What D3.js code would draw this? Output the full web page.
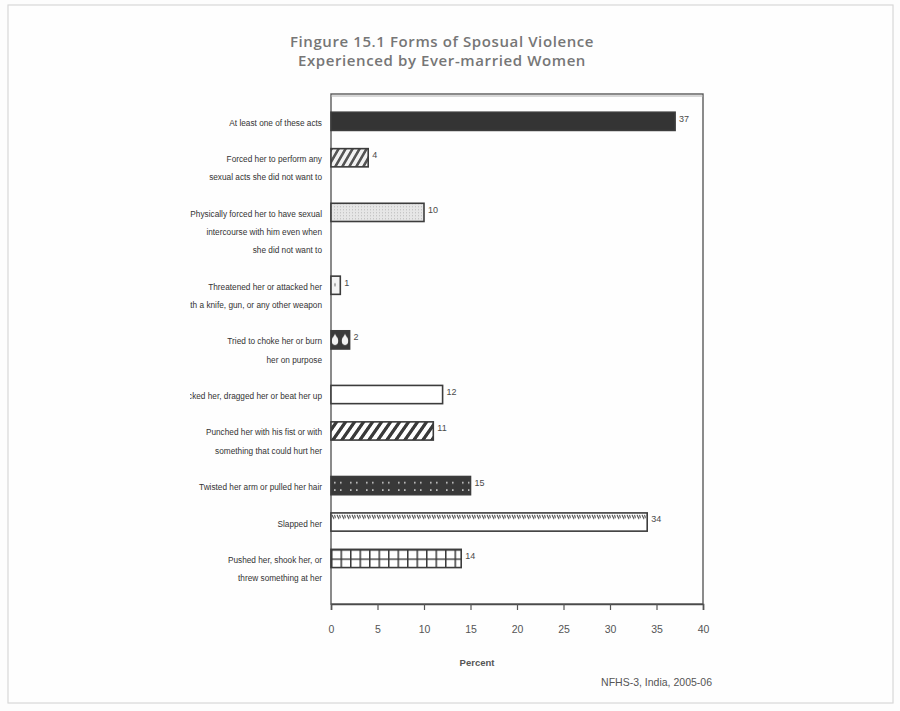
<!DOCTYPE html>
<html>
<head>
<meta charset="utf-8">
<script src="https://cdn.jsdelivr.net/npm/d3@7"></script>
<style>
  html, body { margin: 0; padding: 0; background: #fdfdfd; }
  svg { display: block; }
</style>
</head>
<body>
<svg id="chart" width="900" height="711"></svg>
<script>
// Chart data
const categories = [
  ["At least one of these acts"],
  ["Forced her to perform any", "sexual acts she did not want to"],
  ["Physically forced her to have sexual", "intercourse with him even when", "she did not want to"],
  ["Threatened her or attacked her", "with a knife, gun, or any other weapon"],
  ["Tried to choke her or burn", "her on purpose"],
  ["Kicked her, dragged her or beat her up"],
  ["Punched her with his fist or with", "something that could hurt her"],
  ["Twisted her arm or pulled her hair"],
  ["Slapped her"],
  ["Pushed her, shook her, or", "threw something at her"]
];
const percents = [37, 4, 10, 1, 2, 12, 11, 15, 34, 14];
const fills = ["solid", "hatch", "fine", "threat", "drops", "plain", "stripe", "dots", "slap", "grid"];
const xTicks = [0, 5, 10, 15, 20, 25, 30, 35, 40];
const titleLines = ["Fingure 15.1 Forms of Sposual Violence", "Experienced by Ever-married Women"];
const xTitle = "Percent";
const sourceNote = "NFHS-3, India, 2005-06";

const svg = d3.select("#chart");
const W = 900, H = 711;
const plot = { left: 331, right: 703, top: 94, bottom: 604 };
const narrow = "'Liberation Sans', Arial, sans-serif";

// page frame
svg.append("rect")
  .attr("x", 8).attr("y", 5).attr("width", 885).attr("height", 698)
  .attr("fill", "#fefefe").attr("stroke", "#d8d8d8").attr("stroke-width", 1.2);

// title
svg.append("g").selectAll("text").data(titleLines).join("text")
  .attr("x", 442).attr("y", (d, i) => 46.5 + i * 19)
  .attr("text-anchor", "middle")
  .attr("font-family", "'Open Sans', sans-serif")
  .attr("font-weight", 600)
  .attr("font-size", 15)
  .attr("letter-spacing", 0.6)
  .attr("fill", "#767676")
  .text(d => d);

// Each category takes one slot per label line plus a spacer slot; a leading spacer pads the top.
const slots = ["top"];
const firstSlot = [];
categories.forEach((lines, i) => {
  firstSlot.push(slots.length);
  lines.forEach((_, j) => slots.push(`c${i}-l${j}`));
  slots.push(`c${i}-gap`);
});

const y = d3.scaleBand().domain(slots).range([plot.top, plot.bottom]).padding(0);
const x = d3.scaleLinear().domain([0, 40]).range([plot.left, plot.right]);
const bh = y.bandwidth();

const data = categories.map((lines, i) => ({
  lines, value: percents[i], fill: fills[i], slot: slots[firstSlot[i]],
  lineSlots: lines.map((_, j) => slots[firstSlot[i] + j])
}));

// bar patterns, anchored to each bar's origin
const defs = svg.append("defs");
data.forEach((d, i) => {
  const p = defs.append("pattern")
    .attr("id", "pat" + i)
    .attr("patternUnits", "userSpaceOnUse")
    .attr("x", x(0)).attr("y", y(d.slot));
  const bg = (w, h, c) => { p.attr("width", w).attr("height", h);
    p.append("rect").attr("width", w).attr("height", h).attr("fill", c); };
  switch (d.fill) {
    case "solid":
      bg(6, 6, "#343434");
      break;
    case "hatch":
      bg(7, bh, "#f2f2f2");
      p.attr("patternTransform", "skewX(-30)");
      p.append("rect").attr("x", 1).attr("width", 3).attr("height", bh).attr("fill", "#555");
      break;
    case "fine":
      bg(3, 3, "#e6e6e6");
      p.append("rect").attr("width", 1).attr("height", 1).attr("fill", "#b9b9b9");
      break;
    case "threat":
      bg(8, bh, "#f4f4f4");
      p.append("rect").attr("x", 3).attr("y", bh / 2 - 2).attr("width", 2).attr("height", 3).attr("fill", "#aaa");
      break;
    case "drops":
      bg(10, bh, "#3a3a3a");
      p.append("ellipse").attr("cx", 4).attr("cy", bh / 2 + 1).attr("rx", 3.2).attr("ry", 4.2).attr("fill", "#f2f2f2");
      p.append("path").attr("d", `M4,${bh / 2 - 6} L1.3,${bh / 2 - 1} L6.7,${bh / 2 - 1}Z`).attr("fill", "#f2f2f2");
      break;
    case "plain":
      bg(4, 4, "#ffffff");
      break;
    case "stripe":
      bg(9, bh, "#ffffff");
      p.attr("patternTransform", "skewX(-35)");
      p.append("rect").attr("x", 2).attr("width", 4).attr("height", bh).attr("fill", "#3a3a3a");
      break;
    case "dots":
      bg(16, bh, "#393939");
      [[3, bh * 0.3], [9, bh * 0.3], [3, bh * 0.7], [9, bh * 0.7]].forEach(([cx, cy]) =>
        p.append("rect").attr("x", cx).attr("y", cy).attr("width", 1.6).attr("height", 1.6).attr("fill", "#d0d0d0"));
      break;
    case "slap":
      bg(5, bh, "#ffffff");
      p.append("path").attr("d", "M1,2 L3,6 M3.5,2 L4.5,5").attr("stroke", "#444").attr("stroke-width", 1.1);
      break;
    case "grid":
      bg(9.5, bh / 2, "#ffffff");
      p.append("path").attr("d", `M0,0.5 H9.5 M0.7,0 V${bh / 2}`).attr("stroke", "#3a3a3a").attr("stroke-width", 1.6);
      break;
  }
});

// plot frame
svg.append("rect")
  .attr("x", plot.left).attr("y", plot.top)
  .attr("width", plot.right - plot.left).attr("height", plot.bottom - plot.top)
  .attr("fill", "none").attr("stroke", "#5a5a5a").attr("stroke-width", 1.4);
svg.append("line")
  .attr("x1", plot.left).attr("x2", plot.right).attr("y1", plot.top + 2).attr("y2", plot.top + 2)
  .attr("stroke", "#b0b0b0").attr("stroke-width", 1);

// bars
svg.append("g").selectAll("rect").data(data).join("rect")
  .attr("x", x(0))
  .attr("y", d => y(d.slot))
  .attr("width", d => x(d.value) - x(0))
  .attr("height", bh)
  .attr("fill", (d, i) => `url(#pat${i})`)
  .attr("stroke", "#3c3c3c").attr("stroke-width", 1.6);

// value labels
svg.append("g").selectAll("text").data(data).join("text")
  .attr("x", d => x(d.value) + 4)
  .attr("y", d => y(d.slot) + bh / 2 - 2)
  .attr("dominant-baseline", "middle")
  .attr("font-family", narrow)
  .attr("font-size", 9)
  .attr("fill", "#4a4a4a")
  .text(d => d.value);

// category labels, condensed horizontally and clipped at the page's left edge
defs.append("clipPath").attr("id", "labelClip")
  .append("rect").attr("x", 190).attr("y", 0).attr("width", 140).attr("height", H);
const lab = svg.append("g").attr("clip-path", "url(#labelClip)")
  .append("g").attr("transform", "translate(322,0) scale(0.87,1)");
data.forEach(d => {
  lab.append("g").selectAll("text").data(d.lines.map((t, j) => ({ t, s: d.lineSlots[j] }))).join("text")
    .attr("x", 0)
    .attr("y", e => y(e.s) + bh / 2 + 2)
    .attr("text-anchor", "end")
    .attr("dominant-baseline", "middle")
    .attr("font-family", narrow)
    .attr("font-size", 9.5)
    .attr("fill", "#333")
    .text(e => e.t);
});

// x axis
const xAxis = d3.axisBottom(x).tickValues(xTicks).tickSize(6).tickPadding(16).tickFormat(d3.format("d"));
const gx = svg.append("g").attr("transform", `translate(0,${plot.bottom})`).call(xAxis);
gx.select(".domain").attr("stroke", "#4a4a4a").attr("stroke-width", 1.6);
gx.selectAll(".tick line").attr("stroke", "#555").attr("stroke-width", 1.2);
gx.selectAll(".tick text")
  .attr("font-family", narrow)
  .attr("font-size", 10.5).attr("fill", "#555");

svg.append("text")
  .attr("x", 477).attr("y", 666)
  .attr("text-anchor", "middle")
  .attr("font-family", narrow)
  .attr("font-weight", "bold")
  .attr("font-size", 9.5).attr("fill", "#555")
  .text(xTitle);

svg.append("text")
  .attr("x", 712).attr("y", 686)
  .attr("text-anchor", "end")
  .attr("font-family", narrow)
  .attr("font-size", 10.5).attr("fill", "#555")
  .text(sourceNote);
</script>
</body>
</html>
